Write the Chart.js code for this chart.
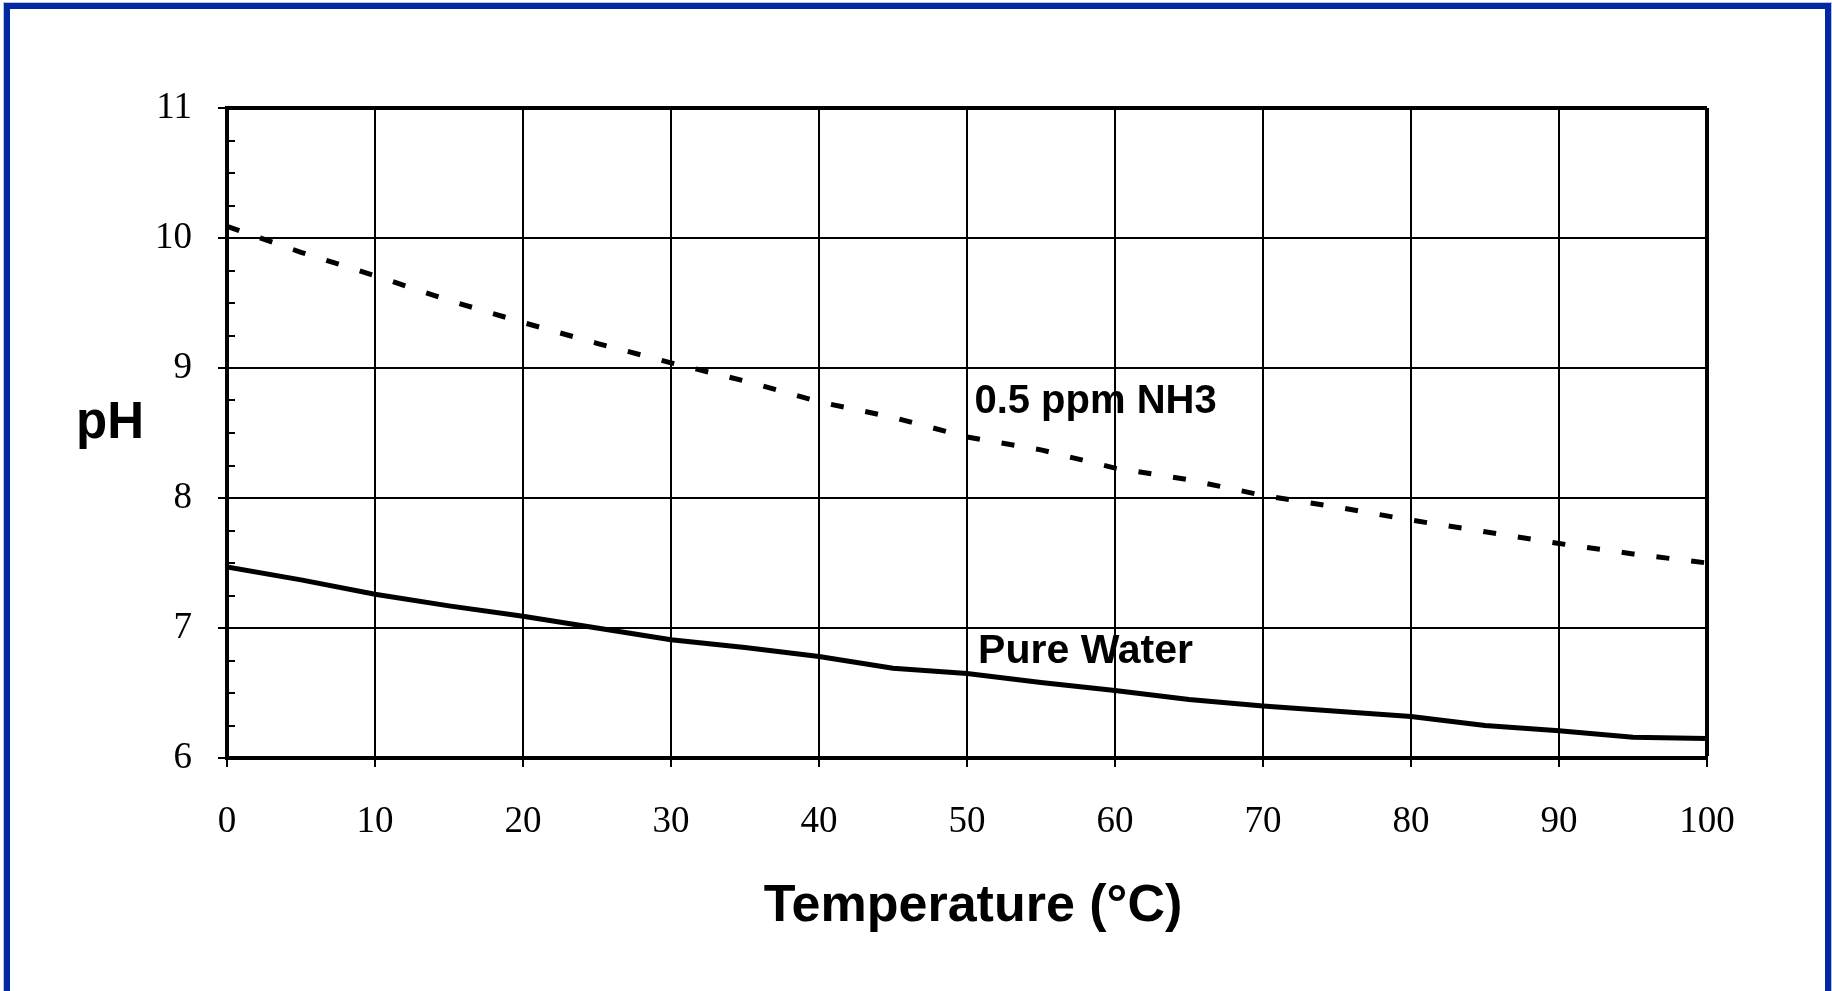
<!DOCTYPE html>
<html><head><meta charset="utf-8">
<script src="https://cdn.jsdelivr.net/npm/chart.js@4"></script>
<style>
html,body{margin:0;padding:0;background:#fff;overflow:hidden;width:1832px;height:991px;}
#frame{position:absolute;left:4px;top:3px;right:1px;height:1100px;border:6px solid #0029a3;box-sizing:border-box;box-shadow:0 0 0 1px #b8c4e6;}
#wrap{position:absolute;left:0;top:0;width:1832px;height:991px;}
</style></head><body>
<div id="frame"></div>
<div id="wrap"><canvas id="c"></canvas></div>
<script>
// ---- data ----
const temperatureC = [0,5,10,15,20,25,30,35,40,45,50,55,60,65,70,75,80,85,90,95,100];
const pureWaterPH  = [7.47,7.37,7.26,7.17,7.09,7.00,6.91,6.85,6.78,6.69,6.65,6.58,6.52,6.45,6.40,6.36,6.32,6.25,6.21,6.16,6.15];
const ammoniaPH    = [10.09,9.89,9.71,9.52,9.35,9.19,9.04,8.90,8.74,8.62,8.47,8.37,8.23,8.14,8.02,7.93,7.83,7.74,7.65,7.57,7.50];
const seriesNames  = ['Pure Water','0.5 ppm NH3'];
const xTickLabels  = [0,10,20,30,40,50,60,70,80,90,100];
const yTickLabels  = [6,7,8,9,10,11];
const yMinorTicks  = [6.25,6.5,6.75,7.25,7.5,7.75,8.25,8.5,8.75,9.25,9.5,9.75,10.25,10.5,10.75];
const xTitle = 'Temperature (°C)';
const yTitle = 'pH';

const toXY = (ys) => temperatureC.map((t,i)=>({x:t,y:ys[i]}));

const serif = '"Liberation Serif","Times New Roman",serif';
const sans = '"Liberation Sans",Arial,sans-serif';

const textPlugin = {
  id:'texts',
  afterDraw(chart){
    const {ctx, scales:{x,y}, chartArea} = chart;
    ctx.save();
    // minor ticks on y axis (inward)
    ctx.strokeStyle='#000'; ctx.lineWidth=2;
    yMinorTicks.forEach(v=>{
      const py = Math.round(y.getPixelForValue(v));
      ctx.beginPath(); ctx.moveTo(chartArea.left, py); ctx.lineTo(chartArea.left+8, py); ctx.stroke();
    });
    ctx.fillStyle='#000';
    ctx.textBaseline='alphabetic';
    // series labels
    ctx.textAlign='left';
    ctx.font = 'bold 40px '+sans;
    ctx.fillText(seriesNames[1], x.getPixelForValue(50.5), y.getPixelForValue(8.655));
    ctx.font = 'bold 41px '+sans;
    ctx.fillText(seriesNames[0], x.getPixelForValue(50.75), y.getPixelForValue(6.73));
    // axis titles
    ctx.font = 'bold 52px '+sans; ctx.textAlign='center';
    ctx.fillText(xTitle, (chartArea.left+chartArea.right)/2+6, 921);
    ctx.font = 'bold 51px '+sans; ctx.textAlign='left';
    ctx.fillText(yTitle, 76, 438);
    ctx.restore();
  }
};

new Chart(document.getElementById('c'), {
  type:'line',
  data:{
    datasets:[
      {label:seriesNames[0], data:toXY(pureWaterPH), borderColor:'#000', borderWidth:5, pointRadius:0, tension:0, fill:false},
      {label:seriesNames[1], data:toXY(ammoniaPH), borderColor:'#000', borderWidth:5, borderDash:[13,22], borderCapStyle:'butt', pointRadius:0, tension:0, fill:false}
    ]
  },
  options:{
    responsive:true, maintainAspectRatio:false, animation:false, devicePixelRatio:1,
    layout:{padding:{left:0,right:125,top:108,bottom:0}},
    plugins:{legend:{display:false}, tooltip:{enabled:false}},
    scales:{
      x:{
        type:'linear', min:0, max:100,
        afterFit(s){ s.height = 233; },
        afterBuildTicks(s){ s.ticks = xTickLabels.map(v=>({value:v})); },
        grid:{color:'#000', lineWidth:(c)=> (c.tick && c.tick.value===100)?4:2, drawTicks:true, tickLength:9, tickWidth:2, tickColor:'#000'},
        border:{display:true, color:'#000', width:4},
        ticks:{color:'#000', font:{family:serif, size:37}, padding:33, maxRotation:0, autoSkip:false}
      },
      y:{
        type:'linear', min:6, max:11,
        afterFit(s){ s.width = 227; },
        afterBuildTicks(s){ s.ticks = yTickLabels.map(v=>({value:v})); },
        grid:{color:'#000', lineWidth:(c)=> (c.tick && c.tick.value===11)?4:2, drawTicks:true, tickLength:9, tickWidth:2, tickColor:'#000'},
        border:{display:true, color:'#000', width:4},
        ticks:{color:'#000', font:{family:serif, size:37}, padding:26, autoSkip:false}
      }
    }
  },
  plugins:[textPlugin]
});
</script>
</body></html>
